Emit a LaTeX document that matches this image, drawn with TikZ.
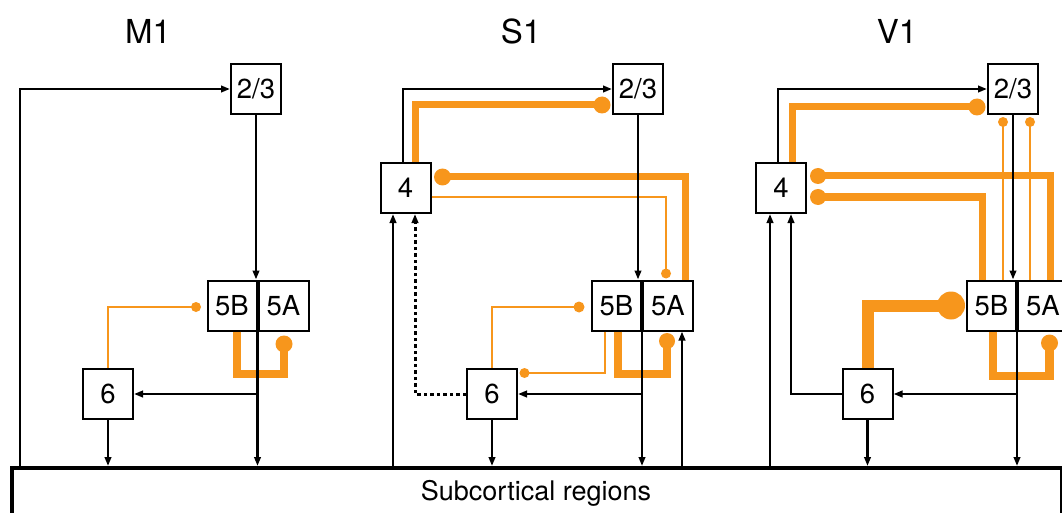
\documentclass[tikz,border=0pt]{standalone}
\usepackage{fontspec}
\setmainfont{TeX Gyre Heros}
\usetikzlibrary{arrows.meta,calc}
\definecolor{org}{RGB}{247,150,28}
\begin{document}
\begin{tikzpicture}[x=1pt,y=-1pt,
  box/.style={draw=black,line width=2pt,minimum width=50pt,minimum height=50pt,inner sep=0pt,fill=white,font=\fontsize{27.5}{30}\selectfont},
  halfbox/.style={box,minimum width=49pt},
  title/.style={font=\fontsize{33}{38}\selectfont},
  blk/.style={draw=black,line width=2.3pt},
  arr/.style={blk,-{Triangle[length=9pt,width=6.5pt]}},
  dotline/.style={dash pattern=on 3.5pt off 3pt,line width=3pt},
  othin/.style={draw=org,line width=2.8pt},
  othick/.style={draw=org,line width=7pt},
  oU/.style={draw=org,line width=8.5pt},
  oXL/.style={draw=org,line width=12pt},
  dotS/.style={circle,fill=org,inner sep=0pt,minimum size=10pt},
  dotM/.style={circle,fill=org,inner sep=0pt,minimum size=17pt},
  dotXL/.style={circle,fill=org,inner sep=0pt,minimum size=28pt}
]
\useasboundingbox (0,0) rectangle (1062,513);
\clip (0,0) rectangle (1062,513);

% titles
\node[title] (tM) at (148,31) {M1};
\node[title] (tS) at (521,31) {S1};
\node[title] (tV) at (897,31) {V1};

% subcortical box
\node[draw,line width=3.5pt,minimum width=1050pt,minimum height=80pt,inner sep=0pt,anchor=north west] (sc) at (10,466) {};
\node[font=\fontsize{27}{30}\selectfont] (sclab) at (536,493) {Subcortical regions};

% ---------------- M1 ----------------
\node[box] (m23) at (256,89) {2/3};
\node[halfbox] (m5b) at (232,305.5) {5B};
\node[box,anchor=west] (m5a) at (m5b.east) {5A};
\node[box] (m6) at (108,394) {6};
\coordinate (mL) at (20,466);

\draw[othin] (m6.north) |- ($(m5b.west)+(-10.5,1.5)$) node[dotS] (md1) {};
\draw[oU] ($(m5b.south)+(5,0)$) -- ++(0,42.5) -| ($(m5a.south)+(0.5,12.5)$) node[dotM] (md2) {};

\draw[arr] (mL) |- (m23.west);
\draw[arr] (m23.south) -- (m23.south |- m5b.north);
\draw[arr] (m5b.south east) -- (m5b.south east |- sc.north);
\draw[arr] (m5b.south east |- m6.east) -- (m6.east);
\draw[arr] (m6.south) -- (m6.south |- sc.north);

% ---------------- S1 ----------------
\node[box] (s23) at (638,89) {2/3};
\node[box] (s4) at (405.5,188) {4};
\node[halfbox] (s5b) at (616.5,305.5) {5B};
\node[box,anchor=west] (s5a) at (s5b.east) {5A};
\node[box] (s6) at (492,394) {6};
\coordinate (sS4) at (393,466);
\coordinate (sS5) at (682,466);

\draw[othick] ($(s4.north)+(9.5,0)$) |- ($(s23.west)+(-10,16)$) node[dotM] (sd1) {};
\draw[othick] ($(s5a.north)+(17.5,0)$) |- ($(s4.east)+(11,-11)$) node[dotM] (sd2) {};
\draw[othin,line width=2.3pt] ($(s4.east)+(0,9)$) -| ($(s5a.north)+(-2,-6)$) node[dotS] (sd3) {};
\draw[othin] (s6.north) |- ($(s5b.west)+(-12,1.5)$) node[dotS,minimum size=11pt] (sd4) {};
\draw[othin] ($(s5b.south)+(-11.5,0)$) |- ($(s6.east)+(6.5,-21)$) node[dotS] (sd5) {};
\draw[oU] ($(s5b.south)+(1.5,0)$) -- ++(0,42.5) -| ($(s5a.south)+(-1,9.5)$) node[dotM,minimum size=16pt] (sd6) {};

\draw[arr] ($(s4.north)+(-2.5,0)$) |- (s23.west);
\draw[arr] (s23.south) -- (s23.south |- s5b.north);
\draw[arr] (s5b.south east) -- (s5b.south east |- sc.north);
\draw[arr] (s5b.south east |- s6.east) -- (s6.east);
\draw[arr] (s6.south) -- (s6.south |- sc.north);
\draw[arr,dotline] (s6.west) -| ($(s4.south)+(9.5,0)$);
\draw[arr] (sS4) -- (sS4 |- s4.south);
\draw[arr] (sS5) -- (sS5 |- s5a.south);

% ---------------- V1 ----------------
\node[box] (v23) at (1013,89) {2/3};
\node[box] (v4) at (781,188) {4};
\node[halfbox] (v5b) at (991.5,305.5) {5B};
\node[box,anchor=west] (v5a) at (v5b.east) {5A};
\node[box] (v6) at (867.5,394) {6};
\coordinate (vS4) at (770,466);

\draw[othick] ($(v4.north)+(11,0)$) |- ($(v23.west)+(-10,18)$) node[dotM] (vd1) {};
\draw[othick] ($(v5a.north)+(7.5,0)$) |- ($(v4.east)+(11,-12)$) node[dotM,minimum size=16pt] (vd2) {};
\draw[othick] ($(v5b.north)+(-9.5,0)$) |- ($(v4.east)+(11,9)$) node[dotM,minimum size=16pt] (vd3) {};
\draw[othin] ($(v5b.north)+(11.5,0)$) -- ($(v5b.north |- v23.south)+(11.5,7)$) node[dotS] (vd4) {};
\draw[othin] ($(v5a.north)+(-13,0)$) -- ($(v5a.north |- v23.south)+(-13,7)$) node[dotS] (vd5) {};
\draw[oXL] (v6.north) |- ($(v5b.west)+(-15,0)$) node[dotXL] (vd6) {};
\draw[oU] ($(v5b.south)+(1.5,0)$) -- ++(0,44.5) -| ($(v5a.south)+(6.5,11.5)$) node[dotM] (vd7) {};

\draw[arr] ($(v4.north)+(-3,0)$) |- (v23.west);
\draw[arr] (v23.south) -- (v23.south |- v5b.north);
\draw[arr] (v5b.south east) -- (v5b.south east |- sc.north);
\draw[arr] (v5b.south east |- v6.east) -- (v6.east);
\draw[arr] (v6.south) -- (v6.south |- sc.north);
\draw[arr] (v6.west) -| ($(v4.south)+(10,0)$);
\draw[arr] (vS4) -- (vS4 |- v4.south);
\end{tikzpicture}
\end{document}
